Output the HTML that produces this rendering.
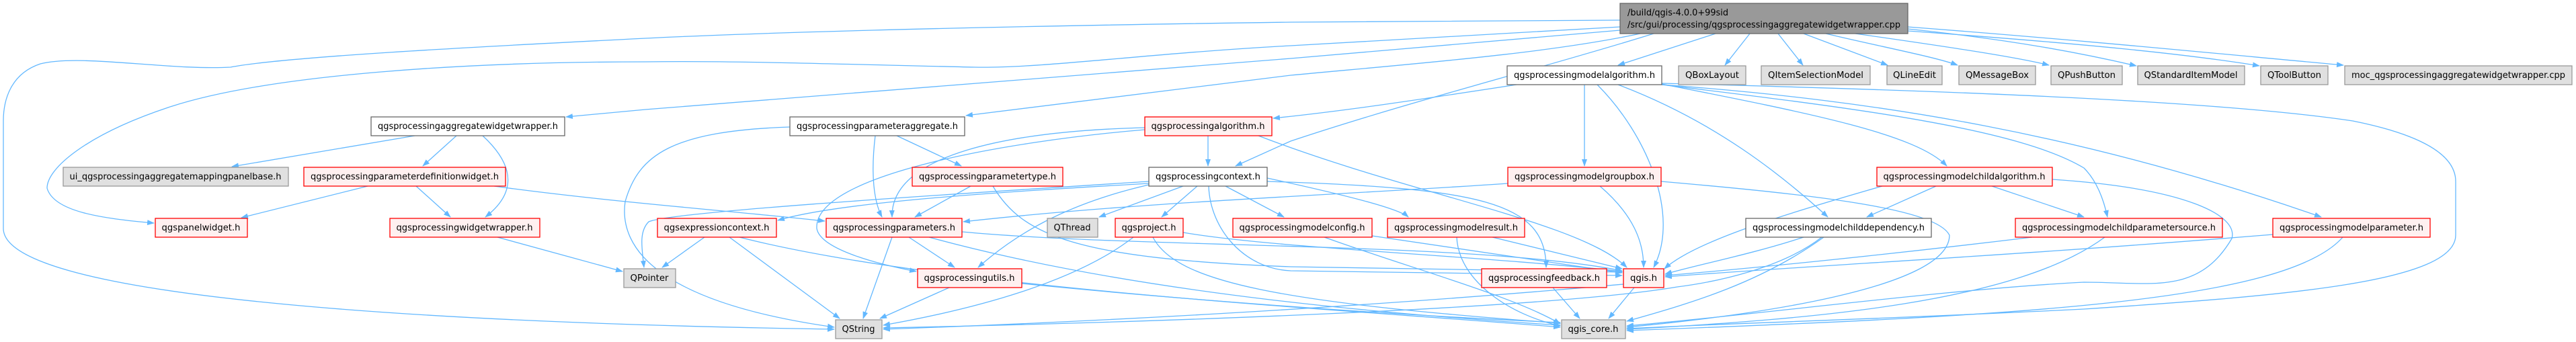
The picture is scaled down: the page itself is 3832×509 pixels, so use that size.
<!DOCTYPE html>
<html><head><meta charset="utf-8"><style>
html,body{margin:0;padding:0;background:#fff;}
svg{display:block;}
text{font-family:"DejaVu Sans","Liberation Sans",sans-serif;font-size:13px;fill:#000;}
.e{fill:none;stroke:#63b8ff;stroke-width:1.3;marker-end:url(#a);}
.w{fill:#fff;stroke:#666;stroke-width:1.3;}
.r{fill:#fff0f0;stroke:#f00;stroke-width:1.3;}
.g{fill:#e0e0e0;stroke:#999;stroke-width:1.3;}
</style></head><body>
<svg width="3832" height="509" viewBox="0 0 3832 509" xmlns="http://www.w3.org/2000/svg">
<defs><marker id="a" markerWidth="11" markerHeight="8" refX="10" refY="4" orient="auto" markerUnits="userSpaceOnUse"><path d="M0,0 L11,4 L0,8 z" fill="#63b8ff"/></marker></defs>
<g>
<path class="e" d="M2552,50 L2407,97"/>
<path class="e" d="M2603,50 L2566,97"/>
<path class="e" d="M2645,50 L2682,97"/>
<path class="e" d="M2683,50 L2808,97"/>
<path class="e" d="M2716,50 C2800,70 2880,85 2912,97"/>
<path class="e" d="M2760,50 C2900,70 3000,85 3048,97"/>
<path class="e" d="M2838,43 C3000,60 3100,80 3178,98"/>
<path class="e" d="M2838,46 C3100,65 3250,80 3361,98"/>
<path class="e" d="M2838,40 C3100,60 3300,80 3486,97"/>
<path class="e" d="M2410,45 L1920,87 L960,163 L842,174"/>
<path class="e" d="M2410,30 L1920,33 C1400,40 1100,50 960,57 C700,70 420,85 343,100 C250,105 120,80 60,95 C15,110 5,150 5,180 L5,340 C5,440 600,480 1241,490"/>
<path class="e" d="M2410,40 L1920,68 C1700,80 1550,102 1450,100 C1300,97 1100,90 960,92 C700,92 400,110 250,160 C130,200 70,250 70,280 C80,315 150,325 229,332"/>
<path class="e" d="M2440,50 C2300,80 2100,95 1920,112 L1437,172"/>
<path class="e" d="M2460,50 C2300,100 2100,150 1920,210 L1838,247"/>
<path class="e" d="M2256,126 C2100,150 2000,165 1894,176"/>
<path class="e" d="M2357,126 L2357,247"/>
<path class="e" d="M2376,126 C2450,200 2500,320 2460,398"/>
<path class="e" d="M2407,126 C2550,180 2650,260 2719,323"/>
<path class="e" d="M2472,125 C2700,170 2850,200 2896,247"/>
<path class="e" d="M2472,126 C2750,160 3000,190 3100,250 C3120,270 3130,300 3135,323"/>
<path class="e" d="M2472,126 C2800,150 3100,200 3453,323"/>
<path class="e" d="M2472,124 C2900,135 3300,150 3500,180 C3600,200 3653,230 3653,270 L3653,350 C3653,420 3400,440 3100,460 C2800,475 2600,480 2420,489"/>
<path class="e" d="M1872,202 C2100,290 2350,330 2420,398"/>
<path class="e" d="M617,202 L345,248"/>
<path class="e" d="M679,202 L629,247"/>
<path class="e" d="M718,202 C770,250 765,290 722,323"/>
<path class="e" d="M547,277 L359,324"/>
<path class="e" d="M619,277 L670,323"/>
<path class="e" d="M735,277 C900,300 1100,315 1227,329"/>
<path class="e" d="M740,353 L926,404"/>
<path class="e" d="M1175,189 C1000,195 950,230 930,300 C920,370 980,450 1241,487"/>
<path class="e" d="M1302,202 C1295,260 1300,300 1312,323"/>
<path class="e" d="M1334,202 L1430,247"/>
<path class="e" d="M1444,277 L1361,323"/>
<path class="e" d="M1477,277 C1520,350 1600,385 1920,397 L2413,405"/>
<path class="e" d="M1797,202 L1797,247"/>
<path class="e" d="M1703,190 C1500,195 1325,230 1327,323"/>
<path class="e" d="M1703,193 C1500,210 1210,260 1215,340 C1220,370 1300,392 1363,404"/>
<path class="e" d="M1709,273 C1500,285 1250,300 1157,328"/>
<path class="e" d="M1709,270 C1400,290 1000,315 965,330 C950,345 955,370 958,398"/>
<path class="e" d="M1760,277 L1635,323"/>
<path class="e" d="M1781,277 L1728,323"/>
<path class="e" d="M1823,277 L1910,323"/>
<path class="e" d="M1709,275 C1600,300 1520,340 1455,398"/>
<path class="e" d="M1798,277 C1800,340 1850,400 1920,403 L2413,410"/>
<path class="e" d="M1885,270 C2200,280 2300,300 2300,398"/>
<path class="e" d="M1885,265 C2000,290 2080,310 2095,323"/>
<path class="e" d="M2243,273 C2000,290 1700,300 1433,330"/>
<path class="e" d="M2380,277 C2430,320 2445,360 2445,398"/>
<path class="e" d="M2471,270 C2700,290 2880,310 2900,350 C2900,430 2600,470 2420,487"/>
<path class="e" d="M2880,277 L2777,323"/>
<path class="e" d="M2963,277 L3100,323"/>
<path class="e" d="M2800,277 C2650,320 2520,360 2476,400"/>
<path class="e" d="M3053,267 C3250,280 3330,320 3320,355 C3270,440 3200,420 3100,420 C2900,430 2600,470 2420,485"/>
<path class="e" d="M2683,353 C2600,380 2520,395 2477,408"/>
<path class="e" d="M2713,353 C2620,420 2520,450 2420,478"/>
<path class="e" d="M2710,353 C2650,400 2550,420 2495,427 C2300,460 1700,480 1314,488"/>
<path class="e" d="M3023,353 C2800,380 2600,400 2477,410"/>
<path class="e" d="M3131,353 C3000,450 2700,475 2420,490"/>
<path class="e" d="M3381,349 C3000,380 2700,395 2477,412"/>
<path class="e" d="M3485,353 C3400,450 3000,470 2420,492"/>
<path class="e" d="M1048,353 L985,398"/>
<path class="e" d="M1085,353 L1249,474"/>
<path class="e" d="M1100,353 C1400,430 2000,460 2321,487"/>
<path class="e" d="M1327,353 L1284,474"/>
<path class="e" d="M1352,353 L1420,398"/>
<path class="e" d="M1382,353 C1700,440 2100,470 2321,484"/>
<path class="e" d="M1431,345 C1700,370 2200,360 2413,403"/>
<path class="e" d="M1412,428 L1309,474"/>
<path class="e" d="M1520,422 C1800,450 2100,470 2321,480"/>
<path class="e" d="M1686,353 C1600,420 1450,460 1314,484"/>
<path class="e" d="M1715,353 C1750,420 1900,450 2321,481"/>
<path class="e" d="M1760,346 C1900,370 2200,380 2413,404"/>
<path class="e" d="M2041,351 L2413,406"/>
<path class="e" d="M1970,353 C2100,400 2250,440 2321,482"/>
<path class="e" d="M2220,353 L2413,400"/>
<path class="e" d="M2167,353 C2170,420 2250,470 2321,485"/>
<path class="e" d="M2310,428 L2350,474"/>
<path class="e" d="M2431,428 L2393,474"/>
<path class="e" d="M2415,423 C2000,460 1600,480 1314,490"/>
</g>
<g>
<rect x="2410" y="5" width="428" height="45" fill="#999" stroke="#666" stroke-width="1.3"/>
<text x="2421" y="23" textLength="150" lengthAdjust="spacingAndGlyphs">/build/qgis-4.0.0+99sid</text>
<text x="2421" y="41" textLength="406" lengthAdjust="spacingAndGlyphs">/src/gui/processing/qgsprocessingaggregatewidgetwrapper.cpp</text>
</g>
<g text-anchor="middle">
<rect class="w" x="2242" y="98" width="230" height="28"/><text x="2357" y="116" textLength="210" lengthAdjust="spacingAndGlyphs">qgsprocessingmodelalgorithm.h</text>
<rect class="g" x="2497" y="98" width="100" height="28"/><text x="2547" y="116" textLength="80" lengthAdjust="spacingAndGlyphs">QBoxLayout</text>
<rect class="g" x="2620" y="98" width="162" height="28"/><text x="2701" y="116" textLength="142" lengthAdjust="spacingAndGlyphs">QItemSelectionModel</text>
<rect class="g" x="2807" y="98" width="82" height="28"/><text x="2848" y="116" textLength="64" lengthAdjust="spacingAndGlyphs">QLineEdit</text>
<rect class="g" x="2914" y="98" width="114" height="28"/><text x="2971" y="116" textLength="94" lengthAdjust="spacingAndGlyphs">QMessageBox</text>
<rect class="g" x="3051" y="98" width="106" height="28"/><text x="3104" y="116" textLength="86" lengthAdjust="spacingAndGlyphs">QPushButton</text>
<rect class="g" x="3180" y="98" width="159" height="28"/><text x="3259" y="116" textLength="139" lengthAdjust="spacingAndGlyphs">QStandardItemModel</text>
<rect class="g" x="3363" y="98" width="100" height="28"/><text x="3413" y="116" textLength="80" lengthAdjust="spacingAndGlyphs">QToolButton</text>
<rect class="g" x="3488" y="98" width="338" height="28"/><text x="3657" y="116" textLength="318" lengthAdjust="spacingAndGlyphs">moc_qgsprocessingaggregatewidgetwrapper.cpp</text>

<rect class="w" x="552" y="174" width="288" height="28"/><text x="696" y="192" textLength="268" lengthAdjust="spacingAndGlyphs">qgsprocessingaggregatewidgetwrapper.h</text>
<rect class="w" x="1175" y="174" width="260" height="28"/><text x="1305" y="192" textLength="240" lengthAdjust="spacingAndGlyphs">qgsprocessingparameteraggregate.h</text>
<rect class="r" x="1703" y="174" width="189" height="28"/><text x="1797" y="192" textLength="169" lengthAdjust="spacingAndGlyphs">qgsprocessingalgorithm.h</text>

<rect class="g" x="94" y="249" width="335" height="28"/><text x="261" y="267" textLength="315" lengthAdjust="spacingAndGlyphs">ui_qgsprocessingaggregatemappingpanelbase.h</text>
<rect class="r" x="452" y="249" width="300" height="28"/><text x="602" y="267" textLength="280" lengthAdjust="spacingAndGlyphs">qgsprocessingparameterdefinitionwidget.h</text>
<rect class="r" x="1357" y="249" width="224" height="28"/><text x="1469" y="267" textLength="204" lengthAdjust="spacingAndGlyphs">qgsprocessingparametertype.h</text>
<rect class="w" x="1709" y="249" width="176" height="28"/><text x="1797" y="267" textLength="156" lengthAdjust="spacingAndGlyphs">qgsprocessingcontext.h</text>
<rect class="r" x="2243" y="249" width="228" height="28"/><text x="2357" y="267" textLength="208" lengthAdjust="spacingAndGlyphs">qgsprocessingmodelgroupbox.h</text>
<rect class="r" x="2792" y="249" width="261" height="28"/><text x="2922" y="267" textLength="241" lengthAdjust="spacingAndGlyphs">qgsprocessingmodelchildalgorithm.h</text>

<rect class="r" x="231" y="325" width="137" height="28"/><text x="299" y="343" textLength="117" lengthAdjust="spacingAndGlyphs">qgspanelwidget.h</text>
<rect class="r" x="580" y="325" width="223" height="28"/><text x="691" y="343" textLength="203" lengthAdjust="spacingAndGlyphs">qgsprocessingwidgetwrapper.h</text>
<rect class="r" x="978" y="325" width="177" height="28"/><text x="1066" y="343" textLength="157" lengthAdjust="spacingAndGlyphs">qgsexpressioncontext.h</text>
<rect class="r" x="1229" y="325" width="202" height="28"/><text x="1330" y="343" textLength="182" lengthAdjust="spacingAndGlyphs">qgsprocessingparameters.h</text>
<rect class="g" x="1558" y="325" width="75" height="28"/><text x="1595" y="343" textLength="55" lengthAdjust="spacingAndGlyphs">QThread</text>
<rect class="r" x="1659" y="325" width="101" height="28"/><text x="1709" y="343" textLength="81" lengthAdjust="spacingAndGlyphs">qgsproject.h</text>
<rect class="r" x="1834" y="325" width="207" height="28"/><text x="1937" y="343" textLength="187" lengthAdjust="spacingAndGlyphs">qgsprocessingmodelconfig.h</text>
<rect class="r" x="2064" y="325" width="204" height="28"/><text x="2166" y="343" textLength="184" lengthAdjust="spacingAndGlyphs">qgsprocessingmodelresult.h</text>
<rect class="w" x="2597" y="325" width="276" height="28"/><text x="2735" y="343" textLength="256" lengthAdjust="spacingAndGlyphs">qgsprocessingmodelchilddependency.h</text>
<rect class="r" x="2998" y="325" width="308" height="28"/><text x="3152" y="343" textLength="288" lengthAdjust="spacingAndGlyphs">qgsprocessingmodelchildparametersource.h</text>
<rect class="r" x="3381" y="325" width="234" height="28"/><text x="3498" y="343" textLength="214" lengthAdjust="spacingAndGlyphs">qgsprocessingmodelparameter.h</text>

<rect class="g" x="928" y="400" width="77" height="28"/><text x="966" y="418" textLength="57" lengthAdjust="spacingAndGlyphs">QPointer</text>
<rect class="r" x="1365" y="400" width="155" height="28"/><text x="1442" y="418" textLength="135" lengthAdjust="spacingAndGlyphs">qgsprocessingutils.h</text>
<rect class="r" x="2204" y="400" width="186" height="28"/><text x="2297" y="418" textLength="166" lengthAdjust="spacingAndGlyphs">qgsprocessingfeedback.h</text>
<rect class="r" x="2415" y="400" width="60" height="28"/><text x="2445" y="418" textLength="40" lengthAdjust="spacingAndGlyphs">qgis.h</text>

<rect class="g" x="1243" y="476" width="69" height="28"/><text x="1277" y="494" textLength="49" lengthAdjust="spacingAndGlyphs">QString</text>
<rect class="g" x="2323" y="476" width="95" height="28"/><text x="2370" y="494" textLength="75" lengthAdjust="spacingAndGlyphs">qgis_core.h</text>
</g>
</svg>
</body></html>
